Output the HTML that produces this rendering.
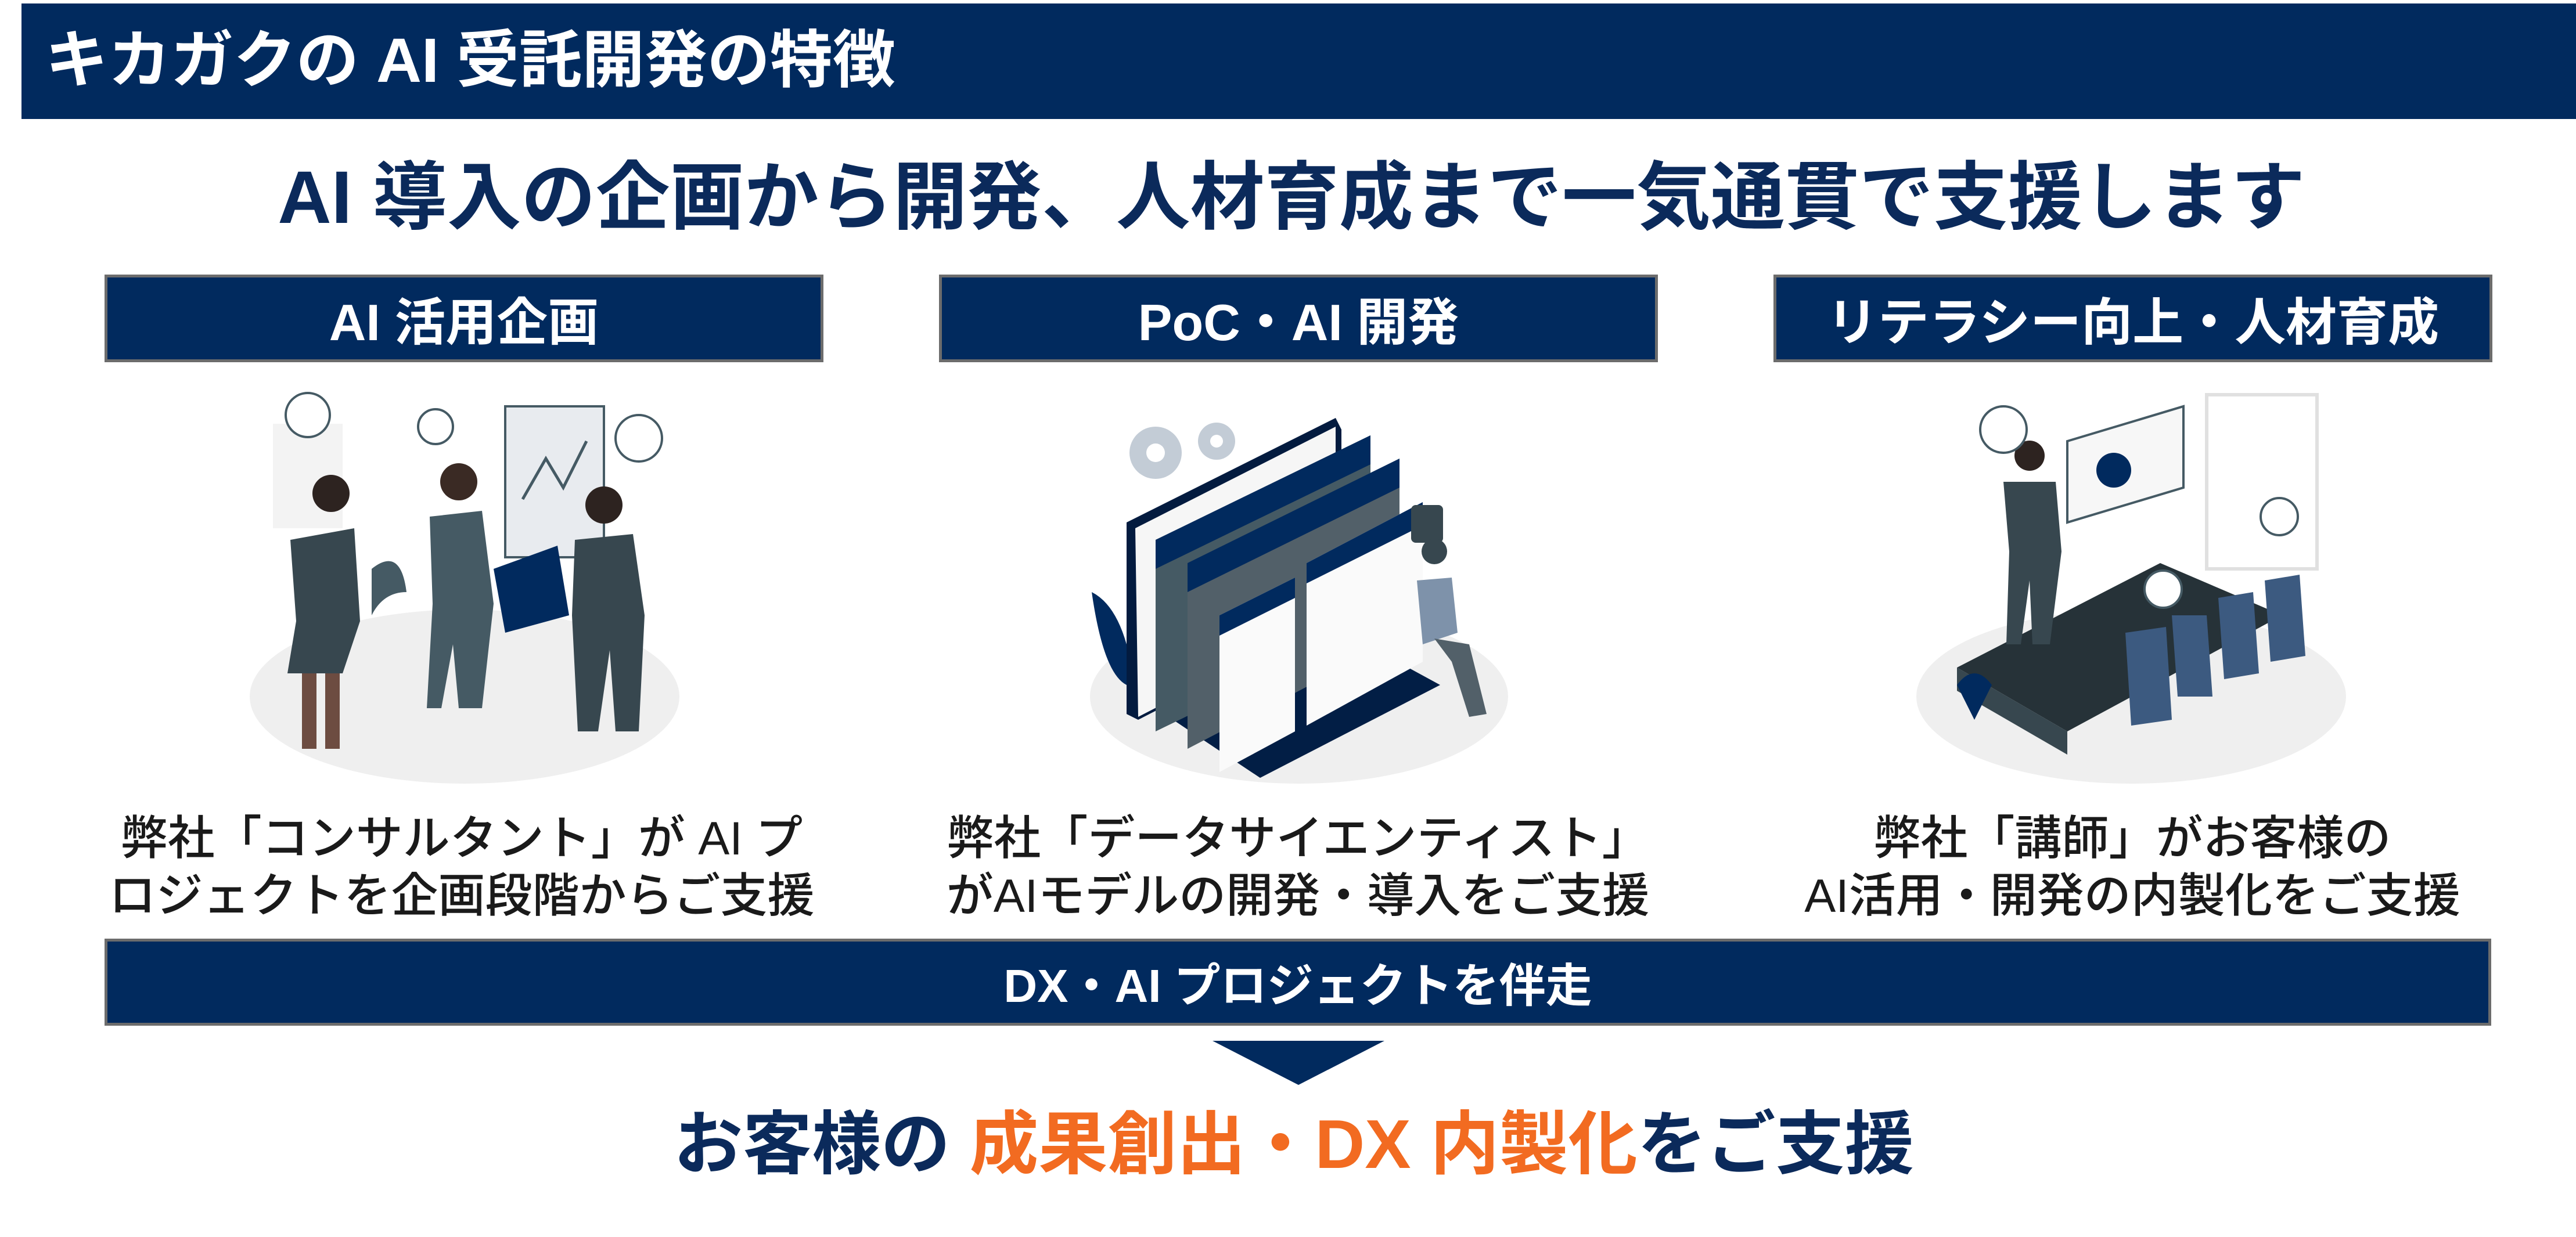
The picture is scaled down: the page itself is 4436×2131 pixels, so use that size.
<!DOCTYPE html>
<html><head><meta charset="utf-8"><style>
html,body{margin:0;padding:0;background:#fff;}
body{width:4436px;height:2131px;position:relative;overflow:hidden;font-family:"Liberation Sans","Noto Sans CJK JP",sans-serif;font-weight:bold;}
.abs{position:absolute;}
.nav{background:#012a5e;color:#fff;}
.box{position:absolute;top:473px;height:151px;width:1238px;box-sizing:border-box;border:5px solid #6c6c6c;background:#012a5e;color:#fff;font-size:88px;display:flex;align-items:center;justify-content:center;}
.desc{position:absolute;width:1300px;text-align:center;font-size:81px;color:#1a1a1a;font-weight:500;line-height:99px;top:1396px;}
</style></head><body>
<div class="abs nav" style="left:37px;top:6px;width:4399px;height:199px;"></div>
<div class="abs" style="left:78px;top:34px;font-size:108px;color:#fff;line-height:140px;white-space:nowrap;">キカガクの AI 受託開発の特徴</div>
<div class="abs" style="left:0;width:4436px;top:258px;text-align:center;font-size:128px;color:#0b2a5b;line-height:165px;white-space:nowrap;padding-left:12px;box-sizing:border-box;">AI 導入の企画から開発、人材育成まで一気通貫で支援します</div>

<div class="box" style="left:180px;">AI 活用企画</div>
<div class="box" style="left:1617px;">PoC・AI 開発</div>
<div class="box" style="left:3054px;">リテラシー向上・人材育成</div>

<svg class="abs" style="left:0;top:640px" width="4436" height="720">
 <ellipse cx="800" cy="560" rx="370" ry="150" fill="#efefef"/>
 <rect x="470" y="90" width="120" height="180" fill="#f3f3f3"/>
 <rect x="870" y="60" width="170" height="260" fill="#e8ebef" stroke="#455a64" stroke-width="4"/>
 <polyline points="900,220 940,150 970,200 1010,120" fill="none" stroke="#455a64" stroke-width="5"/>
 <path d="M850 340 L960 300 L980 420 L870 450Z" fill="#012a5e"/>
 <circle cx="530" cy="75" r="38" fill="#fff" stroke="#455a64" stroke-width="4"/>
 <circle cx="1100" cy="115" r="40" fill="#fff" stroke="#455a64" stroke-width="4"/>
 <circle cx="750" cy="95" r="30" fill="#fff" stroke="#455a64" stroke-width="4"/>
 <circle cx="570" cy="210" r="32" fill="#2d2320"/>
 <path d="M500 290 L610 270 L620 430 L590 520 L495 520 L510 430Z" fill="#37474f"/>
 <rect x="520" y="520" width="25" height="130" fill="#6d4c41"/><rect x="560" y="520" width="25" height="130" fill="#6d4c41"/>
 <circle cx="790" cy="190" r="32" fill="#3a2a24"/>
 <path d="M740 250 L830 240 L850 400 L830 580 L790 580 L780 470 L760 580 L735 580 L745 400Z" fill="#455a64"/>
 <circle cx="1040" cy="230" r="32" fill="#2d2320"/>
 <path d="M990 290 L1090 280 L1110 420 L1100 620 L1060 620 L1050 480 L1030 620 L995 620 L985 420Z" fill="#37474f"/>
 <path d="M640 340 Q690 300 700 380 Q660 380 640 420Z" fill="#455a64"/>
 <ellipse cx="2237" cy="560" rx="360" ry="150" fill="#efefef"/>
 <path d="M1960 560 L2260 420 L2480 540 L2170 700 Z" fill="#021e45"/>
 <path d="M1940 260 L2300 80 L2310 100 L2310 420 L1960 600 L1940 590Z" fill="#031b3f"/>
 <path d="M1955 270 L2300 95 L2300 420 L1960 595Z" fill="#f6f6f6"/>
 <path d="M1990 290 L2360 110 L2360 440 L1990 620Z" fill="#455a64"/>
 <path d="M1990 290 L2360 110 L2360 160 L1990 340Z" fill="#012a5e"/>
 <path d="M2045 330 L2410 150 L2410 460 L2045 650Z" fill="#526069"/>
 <path d="M2045 330 L2410 150 L2410 200 L2045 380Z" fill="#012a5e"/>
 <path d="M2100 420 L2230 355 L2230 620 L2100 690Z" fill="#fafafa"/>
 <path d="M2100 420 L2230 355 L2230 390 L2100 455Z" fill="#012a5e"/>
 <path d="M2250 330 L2450 225 L2450 500 L2250 610Z" fill="#fafafa"/>
 <path d="M2250 330 L2450 225 L2450 265 L2250 365Z" fill="#012a5e"/>
 <circle cx="1990" cy="140" r="45" fill="#c3ccd6"/><circle cx="1990" cy="140" r="16" fill="#fff"/>
 <circle cx="2095" cy="120" r="32" fill="#c3ccd6"/><circle cx="2095" cy="120" r="11" fill="#fff"/>
 <rect x="2430" y="230" width="55" height="65" rx="8" fill="#37474f"/>
 <circle cx="2470" cy="310" r="22" fill="#37474f"/>
 <path d="M2440 360 L2500 355 L2510 450 L2450 470Z" fill="#7e92aa"/>
 <path d="M2470 460 L2530 470 L2560 590 L2530 595 L2500 500Z" fill="#526069"/>
 <path d="M1880 380 Q1920 400 1940 470 L1940 540 Q1900 520 1880 380Z" fill="#012a5e"/>
 <ellipse cx="3670" cy="560" rx="370" ry="150" fill="#efefef"/>
 <rect x="3800" y="40" width="190" height="300" fill="none" stroke="#e0e0e0" stroke-width="6"/>
 <path d="M3560 120 L3760 60 L3760 200 L3560 260Z" fill="#f7f7f7" stroke="#455a64" stroke-width="4"/>
 <circle cx="3640" cy="170" r="30" fill="#012a5e"/>
 <path d="M3370 510 L3720 330 L3930 420 L3560 620Z" fill="#263238"/>
 <path d="M3370 510 L3560 620 L3560 660 L3370 550Z" fill="#37474f"/>
 <circle cx="3495" cy="145" r="26" fill="#2d2320"/>
 <path d="M3450 190 L3540 190 L3550 310 L3530 470 L3500 470 L3495 360 L3480 470 L3455 470 L3460 310Z" fill="#37474f"/>
 <circle cx="3450" cy="100" r="40" fill="#fff" stroke="#455a64" stroke-width="4"/>
 <circle cx="3725" cy="375" r="32" fill="#fff" stroke="#455a64" stroke-width="4"/>
 <circle cx="3925" cy="250" r="32" fill="#fff" stroke="#455a64" stroke-width="4"/>
 <path d="M3740 420 L3800 420 L3810 560 L3750 560Z" fill="#3c5a80"/>
 <path d="M3820 390 L3880 380 L3890 520 L3830 530Z" fill="#3c5a80"/>
 <path d="M3900 360 L3960 350 L3970 490 L3910 500Z" fill="#3c5a80"/>
 <path d="M3660 450 L3730 440 L3740 600 L3670 610Z" fill="#3c5a80"/>
 <path d="M3370 540 Q3400 500 3430 540 L3400 600Z" fill="#012a5e"/>
</svg>

<div class="desc" style="left:145px;">弊社「コンサルタント」が AI プ<br>ロジェクトを企画段階からご支援</div>
<div class="desc" style="left:1585px;">弊社「データサイエンティスト」<br>がAIモデルの開発・導入をご支援</div>
<div class="desc" style="left:3022px;">弊社「講師」がお客様の<br>AI活用・開発の内製化をご支援</div>

<div class="abs" style="left:180px;top:1617px;width:4110px;height:150px;box-sizing:border-box;border:5px solid #6c6c6c;background:#012a5e;color:#fff;font-size:80px;display:flex;align-items:center;justify-content:center;">DX・AI プロジェクトを伴走</div>
<svg class="abs" style="left:2088px;top:1793px" width="296" height="76"><polygon points="0,0 296,0 148,76" fill="#012a5e"/></svg>
<div class="abs" style="left:0;width:4436px;top:1896px;text-align:center;font-size:119px;line-height:152px;color:#0b2a5b;white-space:nowrap;padding-left:20px;box-sizing:border-box;">お客様の <span style="color:#f26b21">成果創出・DX 内製化</span>をご支援</div>
</body></html>
